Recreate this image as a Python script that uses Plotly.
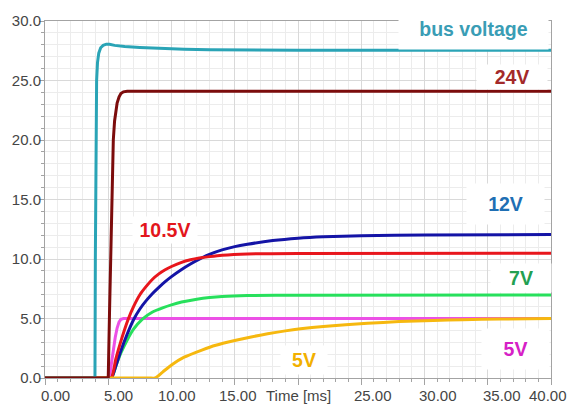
import plotly.graph_objects as go

# ---- measured start-up traces (time in ms, voltage in V) ----
bus_t = [0, 3.95, 3.98, 4.02, 4.08, 4.15, 4.25, 4.4, 4.6, 4.85, 5.1, 5.5, 6.3, 7.5, 9.0, 11.0, 13.0, 16.0, 20.0, 40.0]
bus_v = [0, 0, 10, 20, 25, 26.5, 27.3, 27.75, 27.95, 28.05, 28.05, 27.95, 27.85, 27.78, 27.7, 27.63, 27.58, 27.56, 27.55, 27.55]

v24_t = [0, 5.0, 5.1, 5.2, 5.3, 5.4, 5.5, 5.6, 5.7, 5.85, 6.0, 6.2, 6.5, 40.0]
v24_v = [0, 0, 5.5, 10.5, 15.5, 20, 21.6, 22.5, 23.1, 23.6, 23.9, 24.05, 24.1, 24.1]

v12_t = [0, 4.9, 5.25, 5.6, 6.0, 6.5, 7.0, 7.5, 8.0, 8.5, 9.0, 9.5, 10.0, 10.8, 11.5, 12.2, 13.0, 14.0, 15.0, 16.0, 18.0, 20.0, 22.0, 25.0, 30.0, 40.0]
v12_v = [0, 0, 0, 1.0, 2.3, 3.7, 4.9, 5.8, 6.5, 7.1, 7.62, 8.1, 8.52, 9.12, 9.58, 9.99, 10.39, 10.77, 11.04, 11.24, 11.55, 11.75, 11.87, 11.96, 12.02, 12.05]

v105_t = [0, 4.9, 5.25, 5.6, 6.0, 6.6, 7.0, 7.5, 8.0, 8.5, 9.0, 9.5, 10.0, 10.8, 11.5, 12.2, 13.0, 14.0, 16.0, 20.0, 40.0]
v105_v = [0, 0, 0, 1.6, 3.1, 5.0, 6.0, 7.0, 7.7, 8.3, 8.75, 9.1, 9.37, 9.72, 9.93, 10.08, 10.2, 10.32, 10.43, 10.47, 10.48]

v7_t = [0, 4.9, 5.25, 5.6, 6.0, 6.5, 7.0, 7.7, 8.5, 9.35, 10.0, 10.8, 12.0, 13.0, 14.0, 16.0, 20.0, 40.0]
v7_v = [0, 0, 0, 1.0, 2.1, 3.2, 4.1, 4.95, 5.55, 5.92, 6.15, 6.38, 6.62, 6.76, 6.85, 6.93, 6.96, 6.97]

v5a_t = [0, 5.1, 5.25, 5.4, 5.55, 5.7, 5.85, 6.0, 6.2, 40.0]
v5a_v = [0, 0, 1.2, 2.4, 3.4, 4.2, 4.7, 4.93, 5.0, 5.0]

v5b_t = [0, 8.2, 8.7, 9.3, 10.0, 11.0, 12.4, 13.5, 15.0, 16.3, 17.6, 19.0, 20.2, 22.0, 25.5, 28.0, 30.7, 33.0, 36.0, 40.0]
v5b_v = [0, 0, 0, 0.5, 1.1, 1.75, 2.35, 2.75, 3.15, 3.45, 3.72, 3.96, 4.13, 4.33, 4.6, 4.74, 4.84, 4.9, 4.96, 5.0]

x_ticks = [0, 5, 10, 15, 20, 25, 30, 35, 40]
x_tick_text = ["0.00", "5.00", "10.00", "15.00", "Time [ms]", "25.00", "30.00", "35.00", "40.00"]
y_ticks = [0, 5, 10, 15, 20, 25, 30]
y_tick_text = ["0.0", "5.0", "10.0", "15.0", "20.0", "25.0", "30.0"]

# ---- styling ----
FONT = "Liberation Sans, Arial, sans-serif"
AXIS_GREY = "#a3a3a3"
TICK_FONT = dict(family=FONT, size=15, color="#454545")

# drawing order: bottom first; (name, t, v, colour, smooth curve?)
series = [
    ("5V (aux)", v5a_t, v5a_v, "#ec50e6", False),
    ("7V", v7_t, v7_v, "#27e05c", True),
    ("12V", v12_t, v12_v, "#1414a6", True),
    ("10.5V", v105_t, v105_v, "#e8161c", True),
    ("5V", v5b_t, v5b_v, "#f6b80f", True),
    ("bus voltage", bus_t, bus_v, "#2aa4b6", False),
    ("24V", v24_t, v24_v, "#7c0c0c", False),
]

fig = go.Figure()
for name, t, v, color, smooth in series:
    line = dict(color=color, width=3)
    if smooth:
        line.update(shape="spline", smoothing=0.6)
    fig.add_trace(go.Scatter(
        x=t, y=v, mode="lines", name=name, line=line,
        showlegend=False, hoverinfo="skip",
    ))

# curve labels on white boxes: (text, colour, x [ms], y [V], box width, box height)
curve_labels = [
    ("bus voltage", "#3a9db5", 33.9, 29.34, 149, 40),
    ("24V", "#a3292a", 36.9, 25.33, 70, 24),
    ("12V", "#1f6fb4", 36.4, 14.59, 77, 40),
    ("10.5V", "#e3161c", 9.45, 12.4, 64, 26),
    ("7V", "#22a052", 37.6, 8.44, 60, 28),
    ("5V", "#d620c6", 37.2, 2.46, 67, 40),
    ("5V", "#f2b000", 20.5, 1.48, 46, 28),
]
for text, color, x, y, w, h in curve_labels:
    fig.add_annotation(
        x=x, y=y, xref="x", yref="y", text=text, showarrow=False,
        font=dict(family=FONT, size=19.5, color=color, weight="bold"),
        bgcolor="white", width=w, height=h, borderpad=0,
        xanchor="center", yanchor="middle", align="center", valign="middle",
    )

# x tick labels, each nudged sideways a little
label_nudge = [10, 10, 5, 3, 0, 12, 13, 14, -3]
for val, txt, dx in zip(x_ticks, x_tick_text, label_nudge):
    fig.add_annotation(
        x=val, y=0, xref="x", yref="paper", text=txt, showarrow=False,
        font=TICK_FONT, xanchor="center", yanchor="middle",
        xshift=dx, yshift=-17,
    )

fig.update_xaxes(
    range=[0, 40], tickvals=x_ticks, showticklabels=False,
    ticks="outside", ticklen=6, tickcolor=AXIS_GREY,
    showline=True, linecolor=AXIS_GREY, linewidth=1, mirror=True,
    showgrid=True, gridcolor="#d9d9d9", gridwidth=1, zeroline=False,
    minor=dict(dtick=1, ticks="outside", ticklen=3, tickcolor=AXIS_GREY,
               showgrid=True, gridcolor="#ececec", gridwidth=1),
)
fig.update_yaxes(
    range=[0, 30], tickvals=y_ticks, ticktext=y_tick_text, tickfont=TICK_FONT,
    ticks="outside", ticklen=5, tickcolor=AXIS_GREY, ticklabelstandoff=-5,
    showline=True, linecolor=AXIS_GREY, linewidth=1, mirror=True,
    showgrid=True, gridcolor="#d9d9d9", gridwidth=1, zeroline=False,
    minor=dict(dtick=1, ticks="outside", ticklen=3, tickcolor=AXIS_GREY,
               showgrid=True, gridcolor="#ececec", gridwidth=1),
)

fig.update_layout(
    width=571, height=409,
    margin=dict(l=43, r=20, t=12, b=31),
    paper_bgcolor="white", plot_bgcolor="white",
    font=dict(family=FONT),
)

fig.write_html("out.html")
